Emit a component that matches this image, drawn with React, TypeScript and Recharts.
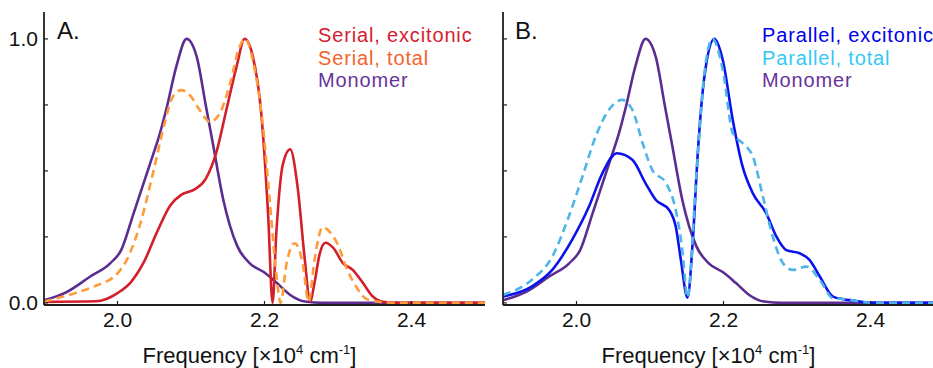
import React from 'react';
import { LineChart, Line, XAxis, YAxis } from 'recharts';

// ---------- data (frequency in 10^4 cm^-1, normalised intensity) ----------
const monomerFreq = [1.9, 1.93, 1.963, 1.99, 2.005, 2.022, 2.044, 2.058, 2.067, 2.08, 2.094, 2.108, 2.12, 2.13, 2.144, 2.163, 2.18, 2.2, 2.217, 2.235, 2.255, 2.28, 2.5];
const monomerInt = [0.01, 0.04, 0.1, 0.15, 0.2, 0.34, 0.525, 0.645, 0.74, 0.895, 1.0, 0.93, 0.75, 0.6, 0.39, 0.215, 0.15, 0.115, 0.075, 0.03, 0.005, 0.0, 0.0];

const serialExcFreq = [1.9, 1.97, 1.985, 2.0, 2.018, 2.036, 2.054, 2.072, 2.087, 2.105, 2.12, 2.135, 2.148, 2.162, 2.173, 2.184, 2.196, 2.205, 2.211, 2.216, 2.225, 2.235, 2.245, 2.255, 2.262, 2.268, 2.275, 2.283, 2.293, 2.307, 2.32, 2.334, 2.347, 2.361, 2.38, 2.5];
const serialExcInt = [0.004, 0.006, 0.015, 0.037, 0.078, 0.155, 0.27, 0.37, 0.41, 0.43, 0.47, 0.575, 0.73, 0.895, 1.0, 0.935, 0.705, 0.33, 0.0, 0.26, 0.525, 0.582, 0.44, 0.16, 0.005, 0.075, 0.185, 0.228, 0.21, 0.15, 0.125, 0.075, 0.025, 0.004, 0.0, 0.0];

const serialTotFreq = [1.9, 1.94, 1.968, 2.0, 2.013, 2.031, 2.049, 2.065, 2.075, 2.087, 2.099, 2.112, 2.126, 2.139, 2.153, 2.166, 2.174, 2.184, 2.198, 2.207, 2.216, 2.222, 2.23, 2.241, 2.252, 2.26, 2.268, 2.279, 2.29, 2.3, 2.311, 2.325, 2.338, 2.356, 2.38, 2.5];
const serialTotInt = [0.005, 0.035, 0.062, 0.112, 0.165, 0.3, 0.5, 0.69, 0.78, 0.806, 0.785, 0.73, 0.686, 0.717, 0.83, 0.97, 1.0, 0.92, 0.667, 0.39, 0.111, 0.0, 0.149, 0.226, 0.149, 0.005, 0.162, 0.287, 0.265, 0.22, 0.136, 0.06, 0.016, 0.004, 0.0, 0.0];

const parallelExcFreq = [1.9, 1.939, 1.967, 1.994, 2.017, 2.035, 2.055, 2.076, 2.094, 2.108, 2.126, 2.135, 2.142, 2.151, 2.158, 2.165, 2.174, 2.1876, 2.199, 2.2126, 2.226, 2.24, 2.258, 2.272, 2.2855, 2.3037, 2.317, 2.331, 2.349, 2.363, 2.3765, 2.395, 2.42, 2.5];
const parallelExcInt = [0.024, 0.062, 0.125, 0.239, 0.365, 0.49, 0.567, 0.542, 0.453, 0.39, 0.352, 0.289, 0.163, 0.02, 0.226, 0.567, 0.857, 1.0, 0.92, 0.693, 0.516, 0.415, 0.34, 0.251, 0.2, 0.188, 0.163, 0.1, 0.024, 0.014, 0.009, 0.002, 0.0, 0.0];

const parallelTotFreq = [1.9, 1.939, 1.967, 1.9895, 2.008, 2.026, 2.044, 2.062, 2.076, 2.09, 2.103, 2.122, 2.135, 2.144, 2.151, 2.163, 2.174, 2.185, 2.199, 2.2126, 2.226, 2.24, 2.2536, 2.267, 2.281, 2.2945, 2.3128, 2.331, 2.349, 2.3675, 2.381, 2.4, 2.42, 2.5];
const parallelTotInt = [0.03, 0.087, 0.175, 0.327, 0.478, 0.63, 0.731, 0.769, 0.731, 0.605, 0.504, 0.453, 0.352, 0.2, 0.02, 0.478, 0.87, 1.0, 0.883, 0.643, 0.605, 0.554, 0.403, 0.251, 0.15, 0.125, 0.1375, 0.087, 0.018, 0.014, 0.007, 0.001, 0.0, 0.0];

const xTicks = [2.0, 2.2, 2.4];
const yTicks = [0, 0.25, 0.5, 0.75, 1.0];
const yTickLabels: Record<string, string> = { '0': '0.0', '1': '1.0' };
const panelLabels = ['A.', 'B.'];
const legendA = ['Serial, excitonic', 'Serial, total', 'Monomer'];
const legendB = ['Parallel, excitonic', 'Parallel, total', 'Monomer'];

const toPoints = (xs: number[], ys: number[]) => xs.map((x, i) => ({ x, y: ys[i] }));
const monomer = toPoints(monomerFreq, monomerInt);
const serialExc = toPoints(serialExcFreq, serialExcInt);
const serialTot = toPoints(serialTotFreq, serialTotInt);
const parallelExc = toPoints(parallelExcFreq, parallelExcInt);
const parallelTot = toPoints(parallelTotFreq, parallelTotInt);

// ---------- styles ----------
const FONT = 'Liberation Sans, Arial, sans-serif';
const FRAME = '#1e1e1e';
const C = {
  red: '#d2202b',
  redText: '#d42030',
  orange: '#ff9b3a',
  orangeText: '#f5622c',
  purple: '#5c2d91',
  purpleText: '#67339b',
  blue: '#0b12ea',
  blueText: '#0000ea',
  light: '#4fb5e8',
  lightText: '#35c8f5',
};
const X_DOMAIN: [number, number] = [1.9, 2.5];
const Y_DOMAIN: [number, number] = [-0.008, 1.102];

const FreqLabel = (props: any) => {
  const vb = props.viewBox || {};
  const cx = (vb.x ?? 0) + (vb.width ?? 0) / 2 - 15;
  const y = (vb.y ?? 305) + 58;
  return (
    <text x={cx} y={y} textAnchor="middle" fontFamily={FONT} fontSize={22} fill="#111">
      Frequency [×10
      <tspan dy={-9} fontSize={13}>4</tspan>
      <tspan dy={9}> cm</tspan>
      <tspan dy={-9} fontSize={13}>-1</tspan>
      <tspan dy={9}>]</tspan>
    </text>
  );
};

type PanelProps = {
  width: number;
  yAxisWidth: number;
  rightMargin: number;
  showYLabels: boolean;
  lines: { data: { x: number; y: number }[]; color: string; dashed?: boolean; name: string }[];
};

const Panel = ({ width, yAxisWidth, rightMargin, showYLabels, lines }: PanelProps) => (
  <LineChart width={width} height={368} margin={{ top: 12, right: rightMargin, left: 0, bottom: 23 }}>
    <XAxis
      dataKey="x"
      type="number"
      domain={X_DOMAIN}
      allowDataOverflow
      ticks={xTicks}
      interval={0}
      tickFormatter={(v: number) => v.toFixed(1)}
      tickSize={-4}
      tickMargin={11}
      height={40}
      axisLine={{ stroke: FRAME, strokeWidth: 1.8 }}
      tickLine={{ stroke: FRAME, strokeWidth: 1.2 }}
      tick={{ fontSize: 21, fill: '#111', fontFamily: FONT }}
      label={<FreqLabel />}
    />
    <XAxis xAxisId="top" orientation="top" type="number" domain={X_DOMAIN} height={0} tick={false} tickLine={false} axisLine={{ stroke: FRAME, strokeWidth: 1.8 }} />
    <YAxis
      type="number"
      domain={Y_DOMAIN}
      allowDataOverflow
      ticks={yTicks}
      interval={0}
      width={yAxisWidth}
      tickSize={-4}
      tickMargin={10}
      tickFormatter={(v: number) => (showYLabels ? yTickLabels[String(v)] ?? '' : '')}
      axisLine={{ stroke: FRAME, strokeWidth: 1.8 }}
      tickLine={{ stroke: FRAME, strokeWidth: 1.2 }}
      tick={{ fontSize: 21, fill: '#111', fontFamily: FONT }}
    />
    <YAxis yAxisId="right" orientation="right" type="number" domain={Y_DOMAIN} width={0} tick={false} tickLine={false} axisLine={{ stroke: FRAME, strokeWidth: 1.8 }} />
    {lines.map((l) => (
      <Line
        key={l.name}
        data={l.data}
        dataKey="y"
        name={l.name}
        type="monotone"
        stroke={l.color}
        strokeWidth={2.6}
        strokeDasharray={l.dashed ? '8 5' : undefined}
        dot={false}
        activeDot={false}
        isAnimationActive={false}
      />
    ))}
  </LineChart>
);

const LEGEND_BASELINES = [42, 64.5, 87];

const LegendBlock = ({ x, labels, colors }: { x: number; labels: string[]; colors: string[] }) => (
  <g fontFamily={FONT} fontSize={20} letterSpacing={0.85}>
    {labels.map((t, i) => (
      <text key={i} x={x} y={LEGEND_BASELINES[i]} fill={colors[i]}>
        {t}
      </text>
    ))}
  </g>
);

export default function App() {
  return (
    <div style={{ position: 'absolute', left: 0, top: 0, width: 933, height: 368, overflow: 'hidden', background: '#fff' }}>
      <div style={{ position: 'absolute', left: 0, top: 0 }}>
        <Panel
          width={490}
          yAxisWidth={44}
          rightMargin={5}
          showYLabels
          lines={[
            { data: monomer, color: C.purple, name: 'Monomer' },
            { data: serialExc, color: C.red, name: 'Serial, excitonic' },
            { data: serialTot, color: C.orange, dashed: true, name: 'Serial, total' },
          ]}
        />
      </div>
      <div style={{ position: 'absolute', left: 470, top: 0 }}>
        <Panel
          width={480}
          yAxisWidth={33}
          rightMargin={6}
          showYLabels={false}
          lines={[
            { data: monomer, color: C.purple, name: 'Monomer' },
            { data: parallelExc, color: C.blue, name: 'Parallel, excitonic' },
            { data: parallelTot, color: C.light, dashed: true, name: 'Parallel, total' },
          ]}
        />
      </div>
      <svg width={933} height={368} style={{ position: 'absolute', left: 0, top: 0, pointerEvents: 'none' }}>
        <text x={57} y={39} fontFamily={FONT} fontSize={24} fill="#111">{panelLabels[0]}</text>
        <text x={515} y={39} fontFamily={FONT} fontSize={24} fill="#111">{panelLabels[1]}</text>
        <LegendBlock x={318} labels={legendA} colors={[C.redText, C.orangeText, C.purpleText]} />
        <LegendBlock x={762} labels={legendB} colors={[C.blueText, C.lightText, C.purpleText]} />
      </svg>
    </div>
  );
}
